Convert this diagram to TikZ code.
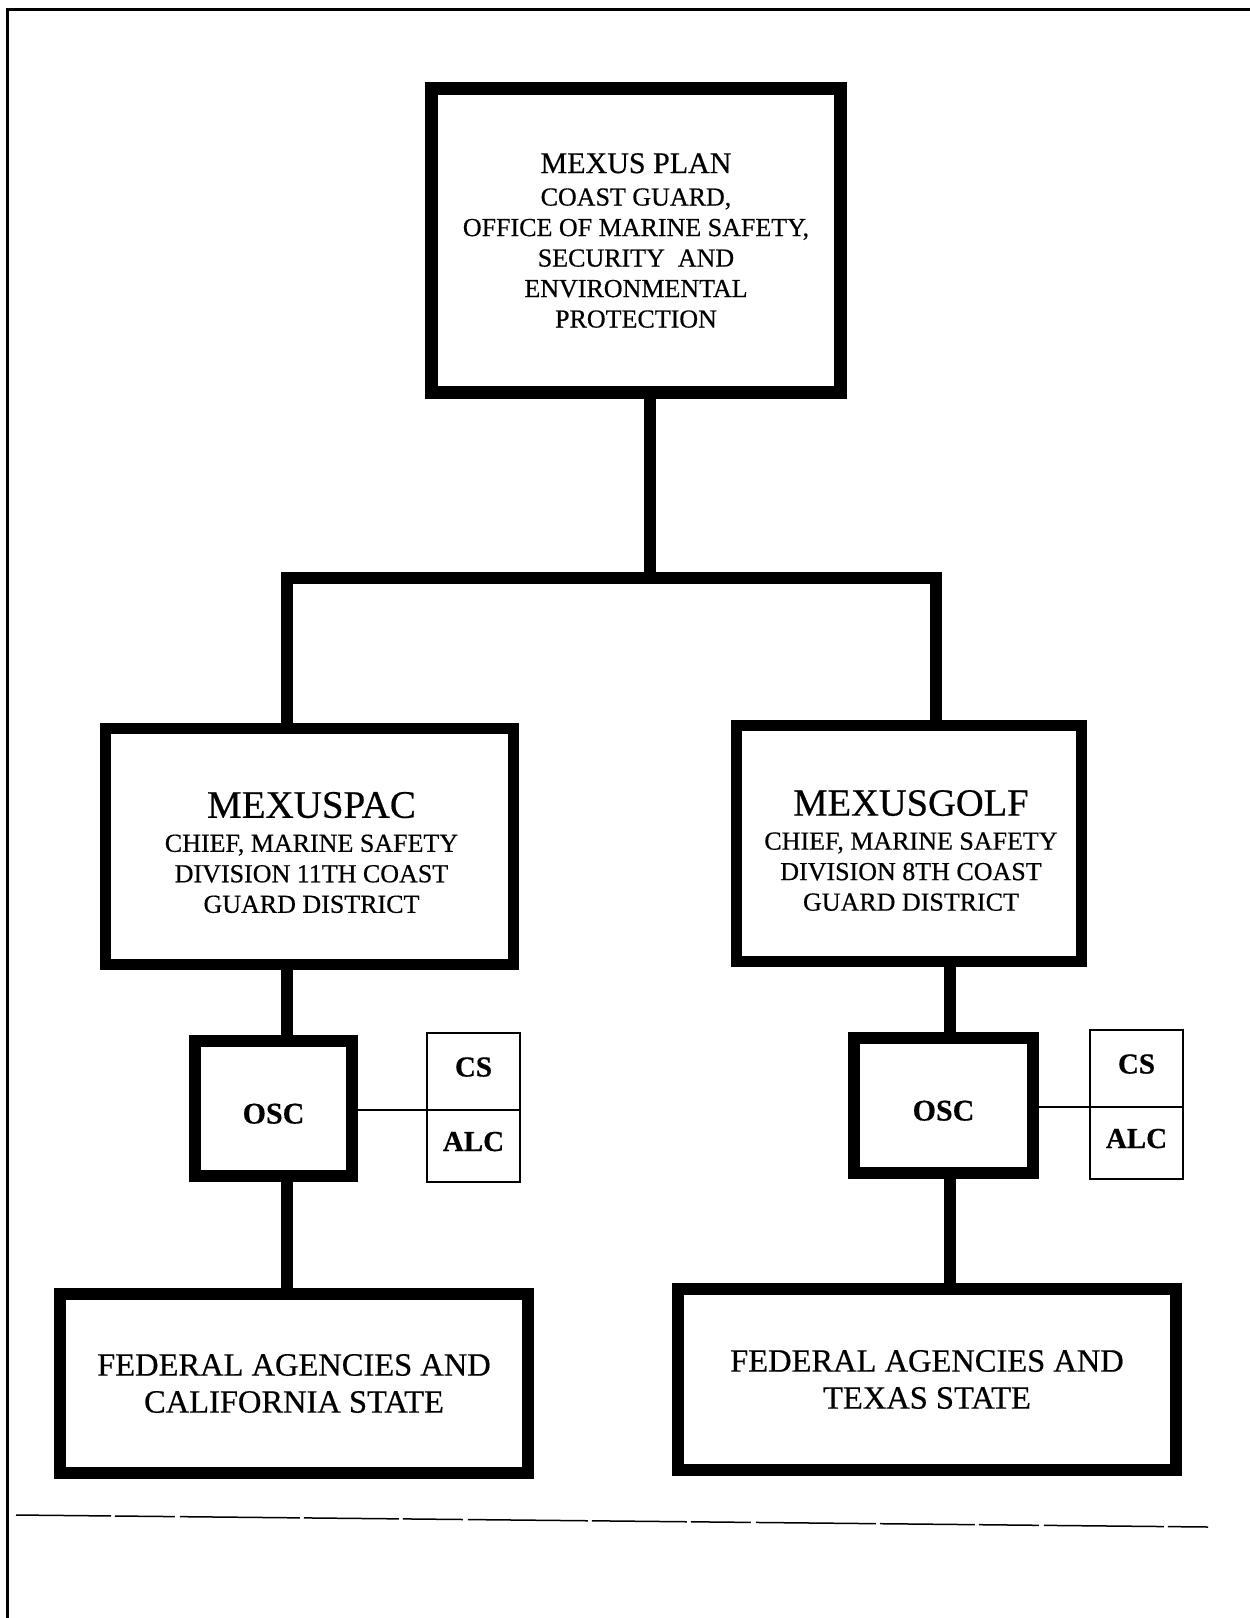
\documentclass[tikz,border=0pt]{standalone}
\usepackage{fontspec}
\setmainfont{Liberation Serif}[FakeBold=0.5]
\begin{document}
\begin{tikzpicture}[x=1pt,y=-1pt,
  box/.style={draw, inner sep=0pt, outer sep=0pt, align=center, line join=miter},
  sbox/.style={draw, line width=2.5pt, inner sep=0pt, outer sep=0pt, minimum width=93pt,
    text height=20pt, text depth=10pt,
    font=\bfseries\fontsize{29}{29}\selectfont},
  conn/.style={line width=12pt, line cap=butt, line join=miter},
  sub/.style={align=center, font=\fontsize{26}{30.5}\selectfont},
  oscbox/.style={box, line width=12pt, minimum height=135pt, text height=30pt, text depth=0pt,
    font=\bfseries\fontsize{30}{30}\selectfont},
  fedbox/.style={box, line width=12pt, font=\fontsize{32.5}{37}\selectfont},
]
\useasboundingbox (0,0) rectangle (1250,1618);
\fill[white] (0,0) rectangle (1250,1618);

% page frame
\draw[line width=3pt] (7,1618) -- (7,9.5) -- (1250,9.5);

% top box
\node[box, sub, line width=13pt, minimum width=409pt, minimum height=304pt] (top) at (636,240.5)
  {{\fontsize{30}{30.5}\selectfont MEXUS PLAN}\\[2pt]
   COAST GUARD,\\ OFFICE OF MARINE SAFETY,\\ SECURITY\ \ AND\\ ENVIRONMENTAL\\ PROTECTION};

% middle boxes
\node[box, line width=11pt, minimum width=408pt, minimum height=236pt] (lm) at (309.5,846.5) {};
\node[sub] (lmt) at ([xshift=2pt,yshift=-6pt]lm.center)
  {{\fontsize{39}{30.5}\selectfont MEXUSPAC}\\[3.5pt]
   CHIEF, MARINE SAFETY\\ DIVISION 11TH COAST\\ GUARD DISTRICT};
\node[box, line width=11pt, minimum width=345pt, minimum height=236pt] (rm) at (909,843.5) {};
\node[sub] (rmt) at ([xshift=2pt,yshift=-7pt]rm.center)
  {{\fontsize{38.5}{30.5}\selectfont MEXUSGOLF}\\[3.5pt]
   CHIEF, MARINE SAFETY\\ DIVISION 8TH COAST\\ GUARD DISTRICT};

% OSC boxes
\node[oscbox, minimum width=157pt] (losc) at (273.5,1108.5) {OSC};
\node[oscbox, minimum width=179pt] (rosc) at (943.5,1105.5) {OSC};

% CS / ALC boxes
\node[sbox, minimum height=77pt] (lcs) at (473.5,1071.5) {CS};
\node[sbox, minimum height=72pt] (lalc) at (473.5,1146) {ALC};
\node[sbox, minimum height=77pt] (rcs) at (1136.5,1068.5) {CS};
\node[sbox, minimum height=72pt] (ralc) at (1136.5,1143) {ALC};

% federal boxes
\node[fedbox, minimum width=468pt, minimum height=179pt] (lf) at (294,1383.5)
  {FEDERAL AGENCIES AND\\ CALIFORNIA STATE};
\node[fedbox, minimum width=498pt, minimum height=181pt] (rf) at (927,1379.5)
  {FEDERAL AGENCIES AND\\ TEXAS STATE};

% connectors
\coordinate (jt) at (650,578);
\coordinate (jl) at (287,578);
\coordinate (jr) at (936,578);
\coordinate (rcol) at (950,578);
\draw[conn] (top.south -| jt) -- (jt);
\draw[conn] (lm.north -| jl) -- (jl) -- (jr) -- (rm.north -| jr);
\draw[conn] (lm.south -| jl) -- (losc.north -| jl);
\draw[conn] (losc.south -| jl) -- (lf.north -| jl);
\draw[conn] (rm.south -| rcol) -- (rosc.north -| rcol);
\draw[conn] (rosc.south -| rcol) -- (rf.north -| rcol);
\draw[line width=2pt] (losc.east |- lcs.south) -- (lcs.south west);
\draw[line width=2pt] (rosc.east |- rcs.south) -- (rcs.south west);

% bottom rule
\draw[line width=1.5pt, dash pattern=on 95pt off 4pt on 60pt off 5pt on 120pt off 4pt]
  (16,1515) -- (1208,1527);
\end{tikzpicture}
\end{document}
